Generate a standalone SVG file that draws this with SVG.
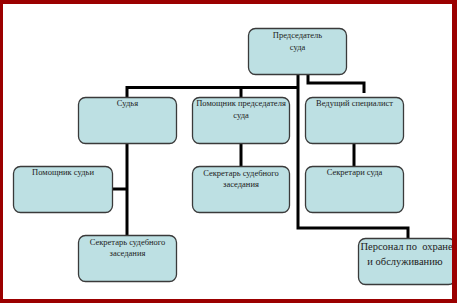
<svg xmlns="http://www.w3.org/2000/svg" width="457" height="303" viewBox="0 0 457 303">
<style>
.box{fill:#bde0e3;stroke:#3a3a3a;stroke-width:1.3}
.t{font-family:"Liberation Serif","Times New Roman",serif;font-size:8.5px;fill:#222;text-anchor:middle}
.tl{font-family:"Liberation Serif","Times New Roman",serif;font-size:10.5px;fill:#222;text-anchor:middle}
.c{fill:none;stroke:#000;stroke-width:3}
</style>
<rect x="0" y="0" width="457" height="303" fill="#fff"/>
<g id="connectors">
<path class="c" d="M298,74V228H408V238"/>
<path class="c" d="M127,97V87.5H298"/>
<path class="c" d="M241,87.5V97"/>
<path class="c" d="M308,74V83H364V93"/>
<path class="c" d="M127,143V235"/>
<path class="c" d="M112,189H127"/>
<path class="c" d="M241,143V166"/>
<path class="c" d="M354,143V166"/>
</g>
<g id="chairman">
<rect class="box" x="248.5" y="28.5" width="98" height="46" rx="7"/>
<text class="t" x="297.5" y="38">Председатель</text>
<text class="t" x="297.5" y="50">суда</text>
</g>
<g id="judge">
<rect class="box" x="78.5" y="97.5" width="98" height="46" rx="7"/>
<text class="t" x="127.5" y="106">Судья</text>
</g>
<g id="assistant-chairman">
<rect class="box" x="192.5" y="97.5" width="97" height="46" rx="7"/>
<text class="t" x="241" y="106">Помощник председателя</text>
<text class="t" x="241" y="118">суда</text>
</g>
<g id="lead-specialist">
<rect class="box" x="305.5" y="97.5" width="98" height="46" rx="7"/>
<text class="t" x="354.5" y="106">Ведущий специалист</text>
</g>
<g id="assistant-judge">
<rect class="box" x="13.5" y="166.5" width="99" height="46" rx="7"/>
<text class="t" x="63" y="175">Помощник судьи</text>
</g>
<g id="secretary-mid">
<rect class="box" x="192.5" y="166.5" width="97" height="46" rx="7"/>
<text class="t" x="241" y="176">Секретарь судебного</text>
<text class="t" x="241" y="187">заседания</text>
</g>
<g id="court-secretaries">
<rect class="box" x="305.5" y="166.5" width="98" height="46" rx="7"/>
<text class="t" x="354.5" y="175">Секретари суда</text>
</g>
<g id="secretary-left">
<rect class="box" x="78.5" y="235.5" width="98" height="46" rx="7"/>
<text class="t" x="127.5" y="245">Секретарь судебного</text>
<text class="t" x="127.5" y="256">заседания</text>
</g>
<g id="staff">
<rect class="box" x="358.5" y="238.5" width="97" height="46" rx="7"/>
<text class="tl" x="406.5" y="250" xml:space="preserve">Персонал по  охране</text>
<text class="tl" x="405" y="265">и обслуживанию</text>
</g>
<path d="M0,0H457V303H0Z M3,4V299H452V4Z" fill="#9b0000" fill-rule="evenodd"/>
</svg>
